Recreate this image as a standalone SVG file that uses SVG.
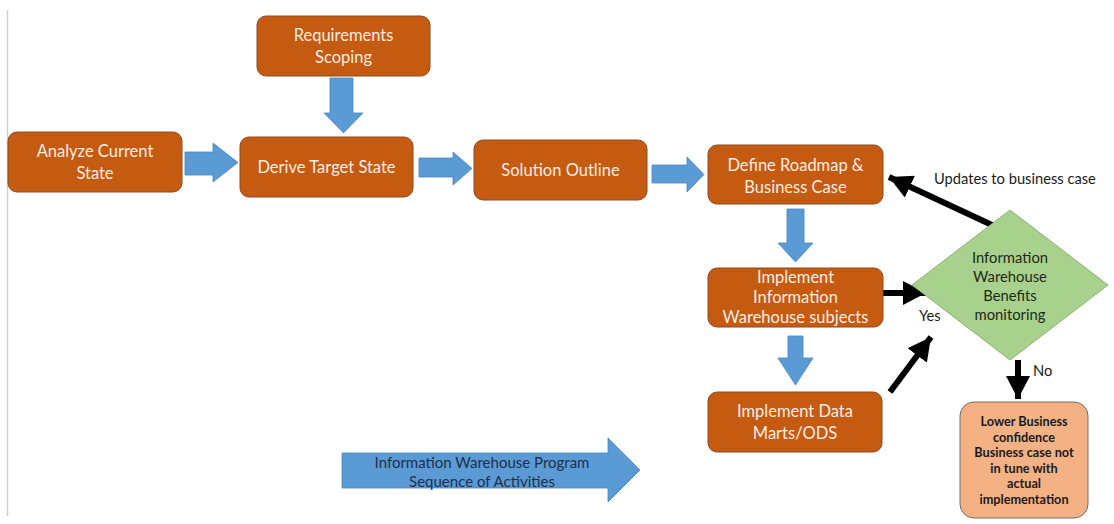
<svg xmlns="http://www.w3.org/2000/svg" width="1114" height="524" viewBox="0 0 1114 524">
  <style>
    .box { fill: #C55A11; stroke: #8C4A24; stroke-width: 1; }
    .box-text { fill: #FBEDE4; font-family: Lato, "Open Sans", sans-serif; font-size: 16.5px; text-anchor: middle; dominant-baseline: central; }
    .block { fill: #5B9BD5; stroke: #4A86BE; stroke-width: 0.8; }
    .flow { stroke: #000; stroke-width: 6; fill: none; marker-end: url(#head); }
    .label { fill: #1a1a1a; font-family: Lato, "Open Sans", sans-serif; font-size: 14.7px; dominant-baseline: central; }
    .diamond { fill: #A9D18E; stroke: #8DB474; stroke-width: 1; }
    .diamond-text { fill: #1E2A14; font-family: Lato, "Open Sans", sans-serif; font-size: 14.8px; text-anchor: middle; dominant-baseline: central; }
    .outcome { fill: #F4B183; stroke: #6E6E6E; stroke-width: 1; }
    .outcome-text { fill: #1a1a1a; font-family: Lato, "Open Sans", sans-serif; font-size: 12.7px; font-weight: bold; text-anchor: middle; dominant-baseline: central; }
    .banner-text { fill: #1F2F4A; font-family: Lato, "Open Sans", sans-serif; font-size: 15px; text-anchor: middle; dominant-baseline: central; }
  </style>
  <defs>
    <marker id="head" markerUnits="userSpaceOnUse" markerWidth="26" markerHeight="24" refX="23" refY="12" orient="auto">
      <path d="M0,0 L23,12 L0,24 Z" fill="#000"/>
    </marker>
  </defs>

  <rect width="1114" height="524" fill="#fff"/>
  <line x1="7.5" y1="10" x2="7.5" y2="516" stroke="#D0D0D0" stroke-width="1.5"/>

  <!-- block arrows and flow connectors -->
  <g id="connectors">
    <polygon class="block" points="330,78 353,78 353,113 363,113 343.5,133 324,113 330,113"/>
    <polygon class="block" points="185,152 213,152 213,143 238,162.5 213,182 213,175 185,175"/>
    <polygon class="block" points="419,158 453,158 453,152 472,168.5 453,185 453,177 419,177"/>
    <polygon class="block" points="652,165 687,165 687,157 704,174.5 687,192 687,183 652,183"/>
    <polygon class="block" points="787,209 804,209 804,243 813,243 795.5,262 778,243 787,243"/>
    <polygon class="block" points="788,336 803,336 803,358 813,358 795.5,385 778,358 788,358"/>

    <line class="flow" x1="992" y1="225" x2="889" y2="177"/>
    <line class="flow" x1="878" y1="293" x2="926" y2="293"/>
    <line class="flow" x1="890" y1="392" x2="931" y2="337"/>
    <line class="flow" x1="1018" y1="360" x2="1018" y2="399"/>

    <text class="label" x="934" y="178">Updates to business case</text>
    <text class="label" x="919" y="315">Yes</text>
    <text class="label" x="1033" y="370">No</text>
  </g>

  <g id="requirements-scoping">
    <rect class="box" x="257" y="16" width="173" height="60" rx="9"/>
    <text class="box-text" x="343.5" y="35">Requirements</text>
    <text class="box-text" x="343.5" y="57">Scoping</text>
  </g>

  <g id="analyze-current-state">
    <rect class="box" x="8" y="132" width="174" height="60" rx="9"/>
    <text class="box-text" x="95" y="151">Analyze Current</text>
    <text class="box-text" x="95" y="173">State</text>
  </g>

  <g id="derive-target-state">
    <rect class="box" x="240" y="137" width="173" height="60" rx="9"/>
    <text class="box-text" x="326.5" y="167">Derive Target State</text>
  </g>

  <g id="solution-outline">
    <rect class="box" x="474" y="140" width="173" height="60" rx="9"/>
    <text class="box-text" x="560.5" y="170">Solution Outline</text>
  </g>

  <g id="define-roadmap">
    <rect class="box" x="708" y="145" width="175" height="59" rx="9"/>
    <text class="box-text" x="795.5" y="165">Define Roadmap &amp;</text>
    <text class="box-text" x="795.5" y="187">Business Case</text>
  </g>

  <g id="implement-subjects">
    <rect class="box" x="708" y="268" width="175" height="59" rx="9"/>
    <text class="box-text" x="795.5" y="277">Implement</text>
    <text class="box-text" x="795.5" y="297">Information</text>
    <text class="box-text" x="795.5" y="317">Warehouse subjects</text>
  </g>

  <g id="implement-data-marts">
    <rect class="box" x="708" y="392" width="174" height="60" rx="9"/>
    <text class="box-text" x="795" y="411">Implement Data</text>
    <text class="box-text" x="795" y="433">Marts/ODS</text>
  </g>

  <g id="benefits-monitoring">
    <polygon class="diamond" points="1010,210 1108,285 1010,360 912,285"/>
    <text class="diamond-text" x="1010" y="257">Information</text>
    <text class="diamond-text" x="1010" y="276">Warehouse</text>
    <text class="diamond-text" x="1010" y="295">Benefits</text>
    <text class="diamond-text" x="1010" y="314">monitoring</text>
  </g>

  <g id="lower-confidence">
    <rect class="outcome" x="960" y="402" width="128" height="116" rx="14"/>
    <text class="outcome-text" x="1024" y="421">Lower Business</text>
    <text class="outcome-text" x="1024" y="437">confidence</text>
    <text class="outcome-text" x="1024" y="452">Business case not</text>
    <text class="outcome-text" x="1024" y="468">in tune with</text>
    <text class="outcome-text" x="1024" y="483">actual</text>
    <text class="outcome-text" x="1024" y="499">implementation</text>
  </g>

  <g id="program-sequence">
    <polygon class="block" points="342,453 608,453 608,438 640,470 608,502 608,488 342,488"/>
    <text class="banner-text" x="482" y="462">Information Warehouse Program</text>
    <text class="banner-text" x="482" y="481">Sequence of Activities</text>
  </g>
</svg>
